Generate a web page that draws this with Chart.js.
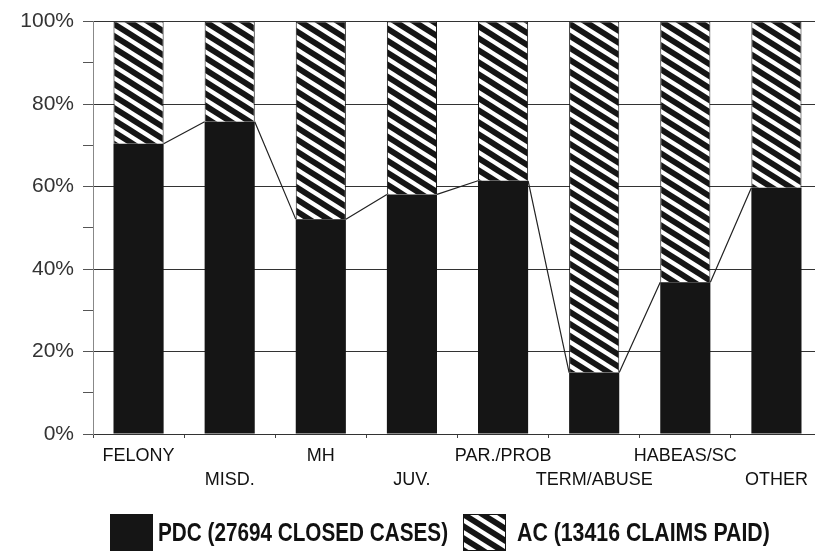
<!DOCTYPE html>
<html>
<head>
<meta charset="utf-8">
<script src="https://cdn.jsdelivr.net/npm/chart.js@4"></script>
<style>
  html, body { margin: 0; padding: 0; background: #fff; overflow: hidden; }
  #wrap { position: relative; width: 840px; height: 551px; }
  .sw { position: absolute; top: 514px; width: 43px; height: 37px; }
  .lt { position: absolute; top: 517px; white-space: nowrap; transform-origin: 0 0;
        font: bold 25px "Liberation Sans", Arial, sans-serif; color: #111; line-height: 30px; }
</style>
</head>
<body>
<div id="wrap">
  <canvas id="chart" width="840" height="551"></canvas>
  <canvas class="sw" id="sw1" width="43" height="37" style="left:110px"></canvas>
  <span class="lt" id="lt1" style="left:158px">PDC (27694 CLOSED CASES)</span>
  <canvas class="sw" id="sw2" width="43" height="37" style="left:463px"></canvas>
  <span class="lt" id="lt2" style="left:517px">AC (13416 CLAIMS PAID)</span>
</div>
<script>
// categories and values (percent of total)
const categories = ['FELONY', 'MISD.', 'MH', 'JUV.', 'PAR./PROB', 'TERM/ABUSE', 'HABEAS/SC', 'OTHER'];
const pdcShare = [70.4, 75.7, 52.1, 58.1, 61.4, 14.9, 36.8, 59.7];
const acShare = pdcShare.map(v => 100 - v);
const yTicks = [0, 20, 40, 60, 80, 100];

const black = '#151515';

function makeHatch() {
    const c = document.createElement('canvas');
    c.width = 19; c.height = 12;
    const g = c.getContext('2d');
    g.fillStyle = '#fff';
    g.fillRect(0, 0, 19, 12);
    g.strokeStyle = black;
    g.lineWidth = 5.8;
    for (const dx of [-19, 0, 19]) {
        g.beginPath();
        g.moveTo(dx - 19, -12);
        g.lineTo(dx + 38, 24);
        g.stroke();
    }
    return c;
}
const hatchTile = makeHatch();
const hatch = document.getElementById('chart').getContext('2d').createPattern(hatchTile, 'repeat');

// legend swatches
const s1 = document.getElementById('sw1').getContext('2d');
s1.fillStyle = black; s1.fillRect(0, 0, 43, 37);
const s2 = document.getElementById('sw2').getContext('2d');
s2.fillStyle = s2.createPattern(hatchTile, 'repeat'); s2.fillRect(0, 0, 43, 37);
s2.strokeStyle = black; s2.lineWidth = 1; s2.strokeRect(0.5, 0.5, 42, 36);

// squeeze legend text to the narrow width of the original
[['lt1', 290], ['lt2', 253]].forEach(([id, w]) => {
    const el = document.getElementById(id);
    el.style.transform = 'scaleX(' + (w / el.offsetWidth) + ')';
});

// labels alternate between two rows
const xLabels = categories.map((c, i) => i % 2 === 0 ? [c, ''] : ['', c]);

// lines joining the top of each black bar to the next one (corner to corner)
const seriesLines = {
    id: 'seriesLines',
    afterDatasetsDraw(chart) {
        const bars = chart.getDatasetMeta(0).data;
        const ctx = chart.ctx;
        ctx.save();
        ctx.strokeStyle = '#222';
        ctx.lineWidth = 1.2;
        ctx.beginPath();
        for (let i = 0; i < bars.length - 1; i++) {
            const a = bars[i], b = bars[i + 1];
            ctx.moveTo(a.x + a.width / 2, a.y);
            ctx.lineTo(b.x - b.width / 2, b.y);
        }
        ctx.stroke();
        ctx.restore();
    }
};

new Chart(document.getElementById('chart'), {
    type: 'bar',
    data: {
        labels: xLabels,
        datasets: [
            {
                label: 'PDC (27694 CLOSED CASES)',
                data: pdcShare,
                backgroundColor: black,
                borderWidth: 0,
                barPercentage: 0.55,
                categoryPercentage: 1
            },
            {
                label: 'AC (13416 CLAIMS PAID)',
                data: acShare,
                backgroundColor: hatch,
                borderColor: black,
                borderWidth: 1,
                barPercentage: 0.55,
                categoryPercentage: 1
            }
        ]
    },
    options: {
        responsive: false,
        animation: false,
        layout: { padding: { top: 20, right: 18, bottom: 57, left: 0 } },
        plugins: { legend: { display: false }, tooltip: { enabled: false } },
        scales: {
            x: {
                stacked: true,
                afterFit: s => { s.height = 60; },
                border: { color: '#333' },
                grid: { drawOnChartArea: false, tickLength: 4, color: '#444' },
                ticks: {
                    padding: 6,
                    maxRotation: 0,
                    autoSkip: false,
                    color: '#111',
                    font: { family: 'Liberation Sans, Arial', size: 18, lineHeight: 1.33 }
                }
            },
            y: {
                stacked: true,
                min: 0,
                max: 100,
                afterFit: s => { s.width = 93; },
                border: { color: '#888' },
                grid: {
                    color: ctx => (ctx.tick && ctx.tick.value % 20 === 0) ? '#333' : 'transparent',
                    tickColor: '#555',
                    tickLength: 10
                },
                ticks: {
                    stepSize: 10,
                    padding: 9,
                    color: '#333',
                    font: { family: 'Liberation Sans, Arial', size: 21 },
                    callback: v => yTicks.includes(v) ? v + '%' : ''
                }
            }
        }
    },
    plugins: [seriesLines]
});
</script>
</body>
</html>
